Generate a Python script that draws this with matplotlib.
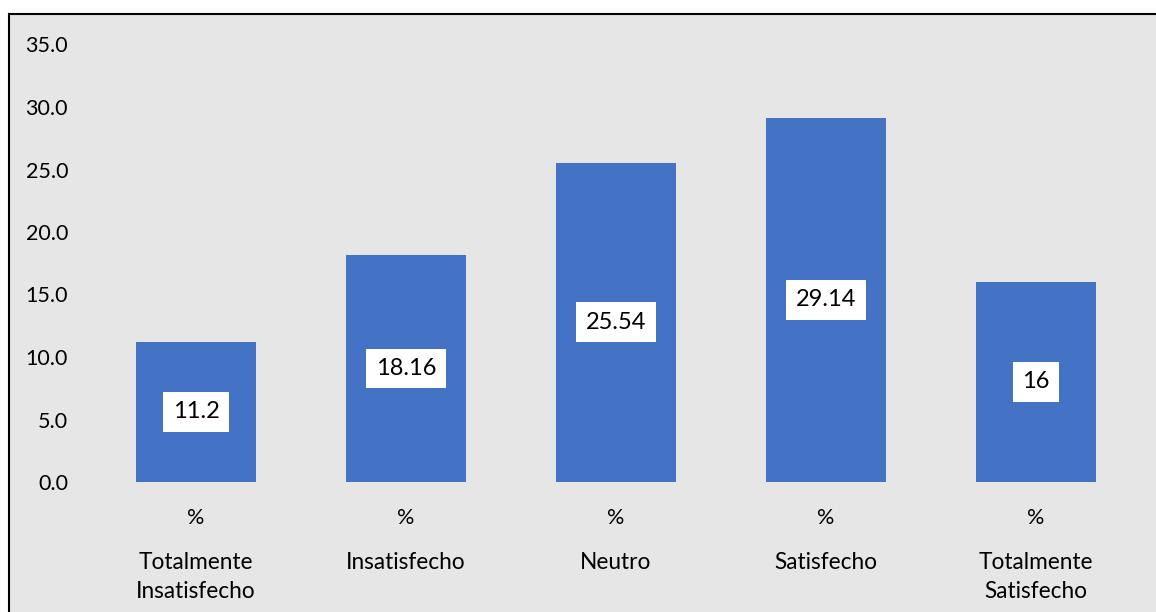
import matplotlib
matplotlib.use("Agg")
import matplotlib.pyplot as plt
from matplotlib.patches import Rectangle
from matplotlib.transforms import blended_transform_factory, offset_copy

categories = ["Totalmente\nInsatisfecho", "Insatisfecho", "Neutro", "Satisfecho", "Totalmente\nSatisfecho"]
inner_labels = ["%", "%", "%", "%", "%"]
values = [11.2, 18.16, 25.54, 29.14, 16]
value_labels = ["11.2", "18.16", "25.54", "29.14", "16"]
yticks = [0, 5, 10, 15, 20, 25, 30, 35]

plt.rcParams['font.family'] = ['Lato', 'DejaVu Sans']

W, H = 1156, 612
fig = plt.figure(figsize=(W / 100, H / 100), dpi=100)
fig.patch.set_facecolor('white')

bg = '#E7E6E6'
# chart area background with black left/top border
rect = Rectangle((8.5 / W, -0.1), 1.2, 1.1 - 14.5 / H, transform=fig.transFigure,
                 facecolor=bg, edgecolor='black', linewidth=1.5, zorder=-10)
fig.add_artist(rect)

ax = fig.add_axes([91 / W, (H - 482) / H, (1141 - 91) / W, (482 - 44.5) / H])
ax.set_zorder(1)
ax.set_facecolor('none')
for s in ax.spines.values():
    s.set_visible(False)

x = list(range(len(categories)))
bars = ax.bar(x, values, width=0.571, color='#4472C4', zorder=2)
ax.set_xlim(-0.5, len(categories) - 0.5)
ax.set_ylim(0, 35)
ax.set_yticks(yticks)
ax.set_yticklabels([f"{v:.1f}" for v in yticks])
ax.tick_params(axis='y', length=0, pad=16.5, labelsize=15.5, labelcolor='black')
ax.set_xticks(x)
ax.set_xticklabels(inner_labels)
ax.tick_params(axis='x', length=0, pad=18.5, labelsize=15.5, labelcolor='black')

ax.bar_label(bars, labels=value_labels, label_type='center', fontsize=17, color='black',
             bbox=dict(boxstyle='square,pad=0.4', facecolor='white', edgecolor='none'), zorder=3)

trans = blended_transform_factory(ax.transData, ax.transAxes)
trans = offset_copy(trans, fig=fig, x=0, y=-70 * 72 / 100, units='points')
for xi, cat in zip(x, categories):
    ax.text(xi, 0, cat, transform=trans, ha='center', va='top', fontsize=16.3,
            color='black', linespacing=1.5)

fig.savefig('out.png', dpi=100, facecolor=fig.get_facecolor())
